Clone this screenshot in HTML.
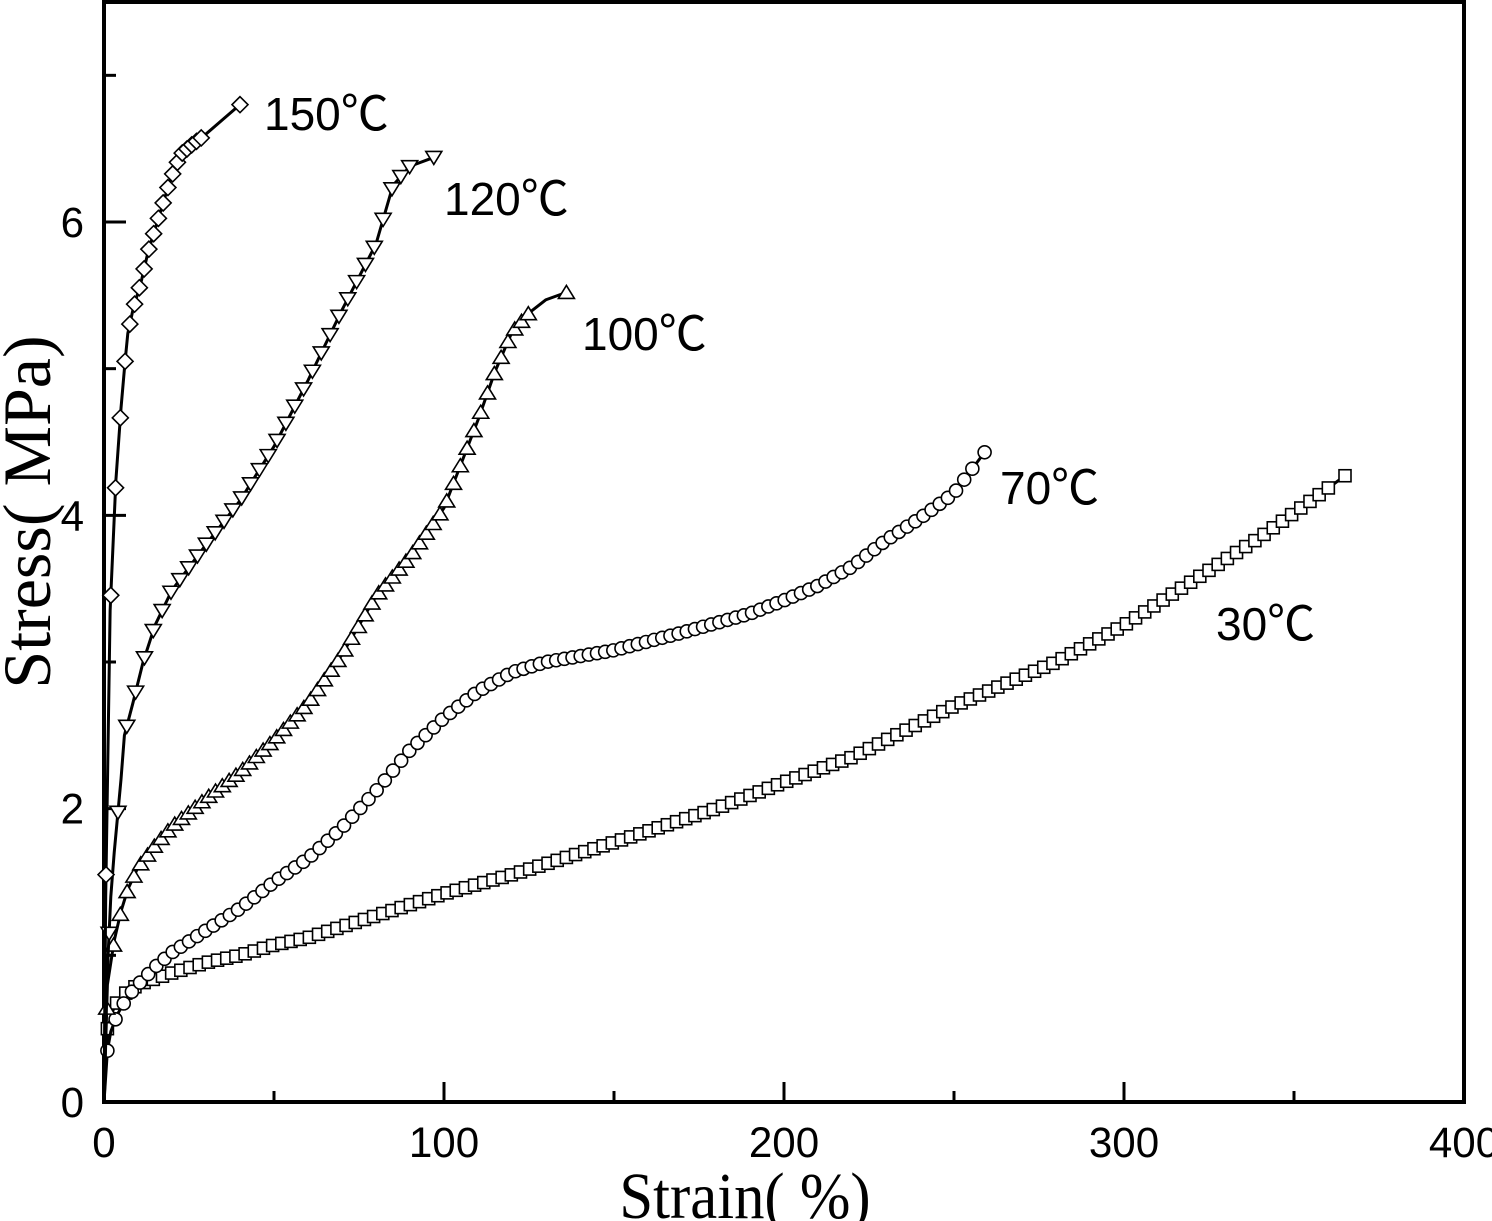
<!DOCTYPE html>
<html><head><meta charset="utf-8"><style>
html,body{margin:0;padding:0;background:#fff;}
svg{display:block;}
</style></head><body>
<svg id="chart" width="1492" height="1221" viewBox="0 0 1492 1221" xmlns="http://www.w3.org/2000/svg">
<g id="axes"></g>
<g id="series"></g>
<g id="labels"></g>
</svg>
<script>
const xTicks = [0, 100, 200, 300, 400];
const xMinor = [50, 150, 250, 350];
const yTicks = [0, 2, 4, 6];
const yMinor = [1, 3, 5, 7];
const s30 = [[0,0],[1,0.5],[3,0.65],[5,0.72],[10,0.8],[20,0.88],[30,0.95],[40,1.0],[50,1.07],[60,1.12],[80,1.27],[100,1.42],[120,1.55],[150,1.77],[180,2.0],[200,2.18],[220,2.35],[250,2.7],[280,3.0],[300,3.25],[320,3.55],[340,3.85],[355,4.1],[365,4.27]];
const s70 = [[0,0],[1,0.35],[2,0.48],[4,0.6],[7,0.72],[10,0.8],[15,0.92],[20,1.02],[30,1.17],[40,1.32],[50,1.5],[60,1.66],[70,1.87],[80,2.12],[90,2.4],[100,2.62],[110,2.8],[120,2.93],[130,3.0],[150,3.08],[170,3.2],[190,3.33],[200,3.42],[210,3.52],[220,3.65],[230,3.83],[240,3.98],[250,4.15],[259,4.43]];
const s100 = [[0,0],[1,0.8],[3,1.1],[5,1.3],[7,1.45],[10,1.6],[15,1.75],[20,1.88],[30,2.07],[40,2.25],[50,2.47],[60,2.72],[70,3.05],[80,3.45],[90,3.72],[100,4.05],[110,4.65],[115,4.98],[120,5.25],[125,5.38],[130,5.47],[136,5.52]];
const s120 = [[0,0],[1,0.9],[2,1.4],[3,1.7],[5,2.2],[6,2.5],[8.5,2.72],[11.5,3.0],[15,3.25],[20,3.49],[30,3.8],[40,4.1],[50,4.47],[60,4.92],[70,5.4],[80,5.85],[85,6.25],[90,6.38],[97,6.44]];
const s150 = [[0,0],[0.5,1.4],[1.8,3.35],[3.5,4.24],[5,4.73],[6.2,5.05],[7,5.24],[8.5,5.4],[11,5.6],[13,5.8],[15,5.95],[17,6.1],[19,6.25],[21,6.38],[23,6.47],[26,6.53],[29,6.58],[40,6.8]];
const seriesNames = ['30','70','100','120','150'];

const X0=104, X1=1464, Y0=1102, Y1=2, XMAX=400, YMAX=7.5;
function xs(v){return X0+(X1-X0)*v/XMAX;}
function ys(v){return Y0-(Y0-Y1)*v/YMAX;}
const NS='http://www.w3.org/2000/svg';
function mk(tag,attrs,parent){const e=document.createElementNS(NS,tag);for(const k in attrs)e.setAttribute(k,attrs[k]);parent.appendChild(e);return e;}
const axes=document.getElementById('axes'),ser=document.getElementById('series'),lab=document.getElementById('labels');

const frame=mk('rect',{x:X0,y:Y1,width:X1-X0,height:Y0-Y1,fill:'none',stroke:'#000','stroke-width':4},axes);



xTicks.forEach(v=>{
  const t=mk('line',{x1:xs(v),x2:xs(v),y1:Y0,y2:Y0-20,stroke:'#000','stroke-width':3},axes);
  
  
  const tx=mk('text',{x:0,y:0,'font-family':'Liberation Sans, sans-serif','font-size':43,'text-anchor':'middle',transform:`translate(${xs(v)},1157) scale(0.98,1)`},lab);
  tx.textContent=v;
  
  
});
xMinor.forEach(v=>{
  const t=mk('line',{x1:xs(v),x2:xs(v),y1:Y0,y2:Y0-11,stroke:'#000','stroke-width':3},axes);
  
  
});
yTicks.forEach(v=>{
  const t=mk('line',{x1:X0,x2:X0+22,y1:ys(v),y2:ys(v),stroke:'#000','stroke-width':3},axes);
  
  
  const tx=mk('text',{x:0,y:0,'font-family':'Liberation Sans, sans-serif','font-size':43,'text-anchor':'end',transform:`translate(84,${ys(v)+15}) scale(0.98,1)`},lab);
  tx.textContent=v;
  
  
});
yMinor.forEach(v=>{
  const t=mk('line',{x1:X0,x2:X0+12,y1:ys(v),y2:ys(v),stroke:'#000','stroke-width':3},axes);
  
  
});

const xt=mk('text',{x:0,y:0,'font-family':'Liberation Serif, serif','font-size':66,'text-anchor':'middle',transform:'translate(745,1218) scale(0.92,1)'},lab);
xt.textContent='Strain(  %)';
xt.setAttribute('xml:space','preserve');


const yt=mk('text',{x:0,y:0,'font-family':'Liberation Serif, serif','font-size':68,'text-anchor':'middle',transform:'translate(50,512) rotate(-90)'},lab);
yt.textContent='Stress(  MPa)';



function marker(type,x,y,g){
  const st={fill:'#fff',stroke:'#000','stroke-width':1.6};
  let e;
  if(type==='square'){e=mk('rect',Object.assign({x:x-6,y:y-6,width:12,height:12},st),g);}
  else if(type==='circle'){e=mk('circle',Object.assign({cx:x,cy:y,r:6.5},st),g);}
  else if(type==='up'){e=mk('polygon',Object.assign({points:`${x},${y-7} ${x-8},${y+6} ${x+8},${y+6}`},st),g);}
  else if(type==='down'){e=mk('polygon',Object.assign({points:`${x},${y+7} ${x-8},${y-6} ${x+8},${y-6}`},st),g);}
  else {e=mk('polygon',Object.assign({points:`${x},${y-8} ${x+8},${y} ${x},${y+8} ${x-8},${y}`},st),g);}
  
  
}
function interp(data,x){
  for(let i=1;i<data.length;i++){if(x<=data[i][0]){const a=data[i-1],b=data[i];const t=(x-a[0])/(b[0]-a[0]);return a[1]+(b[1]-a[1])*t;}}
  return data[data.length-1][1];
}
function drawSeries(data,type,step,start,stopAt,name){
  const g=mk('g',{},ser);
  
  
  const pts=data.map(d=>[xs(d[0]),ys(d[1])]);
  const ln=mk('polyline',{points:pts.map(p=>p.join(',')).join(' '),fill:'none',stroke:'#000','stroke-width':3,'stroke-linejoin':'round'},g);
  
  
  for(let x=start;x<=stopAt;x+=step){marker(type,xs(x),ys(interp(data,x)),g);}
  const last=pts[pts.length-1];marker(type,last[0],last[1],g);
}
drawSeries(s30,'square',2.7,1,362,'30c');
drawSeries(s70,'circle',2.4,1,257,'70c');
drawSeries(s100,'up',2,0.8,126,'100c');
drawSeries(s120,'down',2.6,1.5,92,'120c');
drawSeries(s150,'diamond',1.4,0.6,29,'150c');

const annPos=[[1216,640],[1000,504],[582,350],[444,215],[264,130]];
seriesNames.forEach((n,i)=>{
  const t=mk('text',{x:annPos[i][0],y:annPos[i][1],'font-family':'Liberation Sans, sans-serif','font-size':46},lab);
  
  
  const a=mk('tspan',{},t);a.textContent=n;
  const b=mk('tspan',{'font-family':'Noto Sans CJK SC, sans-serif','font-size':48},t);b.textContent='℃';
});
</script>
</body></html>
